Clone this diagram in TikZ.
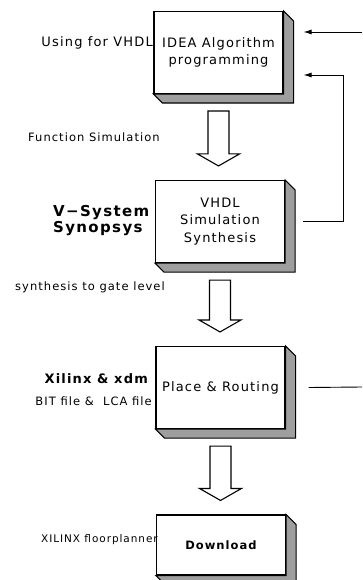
\documentclass[tikz,border=0pt]{standalone}
\usepackage{fontspec}
\setmainfont{DejaVu Sans}[LetterSpace=9]
\usetikzlibrary{calc,arrows.meta}

\begin{document}
\begin{tikzpicture}[x=1pt,y=-1pt,
  box/.style={draw,line width=1.1pt,fill=white,inner sep=0pt,minimum width=129pt,minimum height=82pt,align=center,font=\fontsize{13}{17.5}\selectfont},
  side/.style={draw,fill=black!38,line width=1.1pt},
  note/.style={inner sep=0pt,font=\fontsize{11.5}{14}\selectfont},
  tool/.style={inner sep=0pt,align=left,font=\bfseries\fontsize{13}{16}\selectfont},
  hollow/.style={draw,fill=white,line width=1.1pt},
  flow/.style={line width=0.9pt,-{Latex[length=8pt,width=5pt]}}]
\useasboundingbox (0,0) rectangle (362,580);

\node[box] (1) at (218.5,52.5) {IDEA Algorithm\\programming};
\node[box] (2) at (220,221.5) {VHDL\\Simulation\\Synthesis};
\node[box] (3) at (220.5,387.5) {Place \& Routing};
\node[box,minimum height=60pt,font=\bfseries\fontsize{11.5}{15}\selectfont] (4) at (221,545) {Download};

% raised sides of the boxes
\foreach \n in {1,2,3,4}
  \draw[side] (\n.north east) -- ++(10,10) -- ($(\n.south east)+(10,9)$) -- ($(\n.south west)+(9,9)$) -- (\n.south west) -- (\n.south east) -- cycle;

\node[note,anchor=east,font=\fontsize{13}{14}\selectfont] (5) at (153,43) {Using for VHDL};
\node[note,anchor=west] (6) at (28,137) {Function Simulation};
\node[tool,anchor=west,font=\bfseries\fontsize{15}{16}\selectfont] (7) at (53,221) {V−System\\Synopsys};
\node[note,anchor=west] (8) at (15,287) {synthesis to gate level};
\node[tool,anchor=east] (9) at (148,379) {Xilinx \& xdm};
\node[note,anchor=east] (10) at (152,401) {BIT file \&\ \ LCA file};
\node[note,anchor=east,font=\fontsize{10.5}{14}\selectfont] (11) at (158,540) {XILINX floorplanner};

% hollow arrows between the steps
\foreach \a/\b in {1/2,2/3,3/4}
  \path[hollow] let \p1=(\a.south), \p2=(\b.north) in
    (\x1-10.5pt,\y1-17pt) -- (\x1+10.5pt,\y1-17pt) -- (\x1+10.5pt,\y2+26pt) -- (\x1+21pt,\y2+26pt)
    -- (\x1,\y2+14pt) -- (\x1-21pt,\y2+26pt) -- (\x1-10.5pt,\y2+26pt) -- cycle;

% feedback lines
\coordinate (in) at (362,32);
\coordinate (out) at (362,387);
\draw[flow] (in) -- ([xshift=20pt,yshift=20.5pt]1.east);
\draw[flow] ([xshift=18pt]2.east) -- ++(40,0) |- ([xshift=20pt,yshift=-22.5pt]1.east);
\draw[line width=0.9pt] ([xshift=23pt]3.east) -- (out);
\end{tikzpicture}
\end{document}
